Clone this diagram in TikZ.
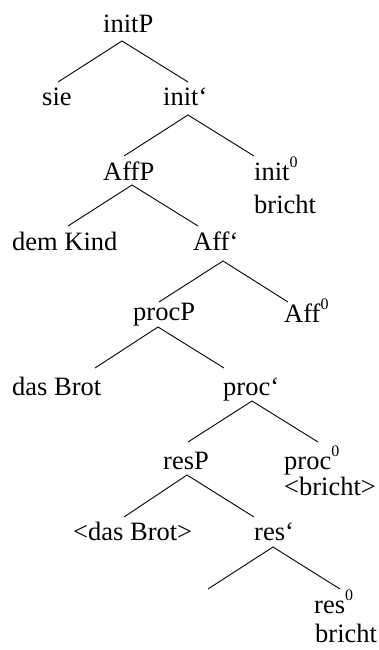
\documentclass[tikz,border=0pt]{standalone}
\usepackage{fontspec}
\setmainfont{Liberation Serif}
\newcommand{\zsup}{\raisebox{13pt}{\fontsize{16}{16}\selectfont 0}}
\begin{document}
\begin{tikzpicture}[x=1pt,y=-1pt,
  lbl/.style={inner sep=0pt,anchor=base west,font=\fontsize{26.5}{30}\selectfont},
  branch/.style={line width=0.9pt}]
\useasboundingbox (0,0) rectangle (378,650);
% labels
\node[lbl] (initP) at (103,33) {initP};
\node[lbl] (sie) at (42,106) {sie};
\node[lbl] (initbar) at (163,106) {init‘};
\node[lbl] (AffP) at (103,180) {AffP};
\node[lbl] (init0) at (254,180) {init\zsup};
\node[lbl] (init0w) at (254,213) {bricht};
\node[lbl] (demKind) at (12,250) {dem Kind};
\node[lbl] (Affbar) at (193,250) {Aff‘};
\node[lbl] (procP) at (133,320) {procP};
\node[lbl] (Aff0) at (284,322) {Aff\zsup};
\node[lbl] (dasBrot) at (12,395) {das Brot};
\node[lbl] (procbar) at (223,395) {proc‘};
\node[lbl] (resP) at (163,469) {resP};
\node[lbl] (proc0) at (284,469) {proc\zsup};
\node[lbl] (proc0w) at (284,495) {<bricht>};
\node[lbl] (dasBrotT) at (73,540) {<das Brot>};
\node[lbl] (resbar) at (254,540) {res‘};
\node[lbl] (res0) at (314,613) {res\zsup};
\node[lbl] (res0w) at (315,642) {bricht};
% branch points
\coordinate (a1) at (122,41);  \coordinate (l1) at (58,82);   \coordinate (r1) at (188,82);
\coordinate (a2) at (188,115); \coordinate (l2) at (124,156); \coordinate (r2) at (254,156);
\coordinate (a3) at (132,185); \coordinate (l3) at (68,226);  \coordinate (r3) at (198,226);
\coordinate (a4) at (223,261); \coordinate (l4) at (159,302); \coordinate (r4) at (288,302);
\coordinate (a5) at (158,327); \coordinate (l5) at (95,368);  \coordinate (r5) at (224,368);
\coordinate (a6) at (252,401); \coordinate (l6) at (188,442); \coordinate (r6) at (318,442);
\coordinate (a7) at (187,475); \coordinate (l7) at (124,517); \coordinate (r7) at (254,517);
\coordinate (a8) at (273,547); \coordinate (l8) at (208,589); \coordinate (r8) at (340,589);
\foreach \i in {1,...,8}{
  \draw[branch] (l\i) -- (a\i) -- (r\i);
}
\end{tikzpicture}
\end{document}
